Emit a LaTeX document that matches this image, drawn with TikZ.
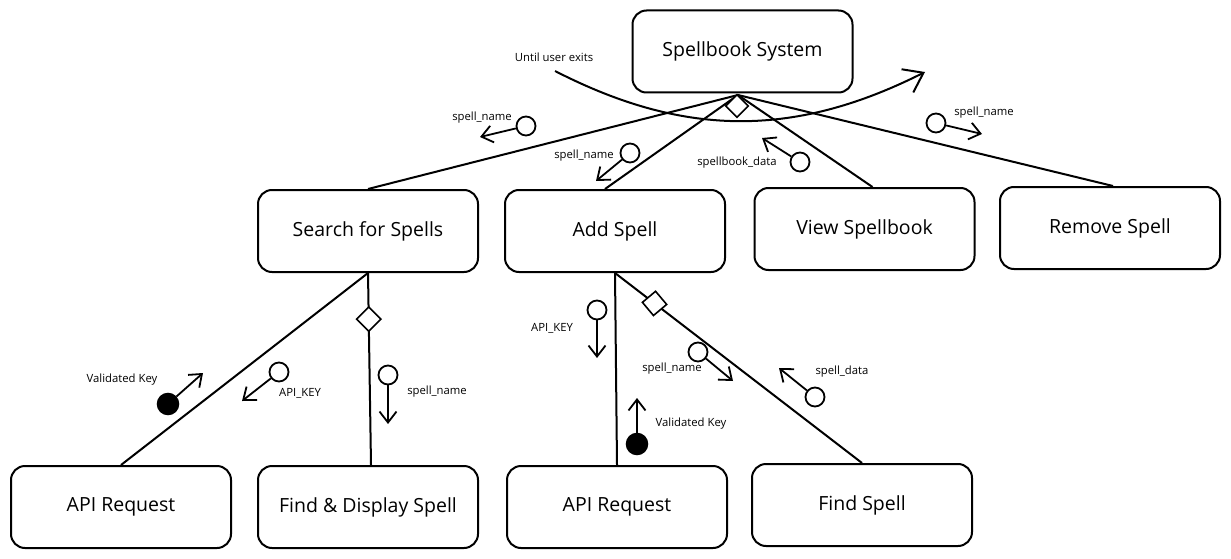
\documentclass[tikz,border=0pt]{standalone}
\usepackage{fontspec}
\setmainfont{Open Sans}
\usetikzlibrary{shapes.geometric,arrows.meta,calc}
\tikzset{
  box/.style={draw, line width=2pt, rounded corners=14pt, minimum width=220pt, minimum height=82pt, font=\fontsize{19.5}{22}\selectfont, fill=white},
  link/.style={line width=2pt},
  dia/.style={draw, diamond, fill=white, line width=1.6pt, minimum size=25pt, inner sep=0pt, aspect=1},
  oc/.style={draw, circle, line width=1.8pt, minimum size=19pt, inner sep=0pt},
  fc/.style={draw, circle, fill=black, line width=1.5pt, minimum size=21pt, inner sep=0pt},
  carr/.style={line width=1.8pt, -{Straight Barb[length=11pt,width=17pt,line width=1.8pt]}},
  lbl/.style={font=\fontsize{11.3}{13}\selectfont, inner sep=1pt}
}
\begin{document}
\begin{tikzpicture}[x=1pt,y=-1pt]
\useasboundingbox (0,0) rectangle (1231,559);
% boxes
\node[box] (sys) at (742.5,51.5) {Spellbook System};
\node[box] (search) at (368,231) {Search for Spells};
\node[box] (add) at (615,231) {Add Spell};
\node[box] (view) at (864.5,229) {View Spellbook};
\node[box] (remove) at (1110,228) {Remove Spell};
\node[box] (api1) at (121,507) {API Request};
\node[box] (fds) at (368,507) {Find \& Display Spell};
\node[box] (api2) at (617,507) {API Request};
\node[box] (find) at (862,505) {Find Spell};
% connectors
\coordinate (top) at (738,95);
\draw[link] (top) -- (search.north);
\draw[link] (top) -- ($(add.north)+(-10,0)$);
\draw[link] (top) -- ($(view.north)+(8,0)$);
\draw[link] (top) -- ($(remove.north)+(3,0)$);
\draw[link] (search.south) -- (api1.north);
\draw[link] (search.south) -- node[dia, pos=0.24] (d2) {} ($(fds.north)+(3,0)$);
\draw[link] (add.south) -- (api2.north);
\draw[link] (add.south) -- node[dia, pos=0.16, rotate=-5] (d3) {} (find.north);
\node[dia, minimum size=23pt] (d1) at (737,106) {};
% loop
\coordinate (ls) at (555,71);
\coordinate (le) at (925,72);
\draw[link, -{Straight Barb[length=18pt,width=26pt,line width=2pt]}] (ls) .. controls (680,135) and (790,140) .. (le);
\node[lbl] (loopl) at (554,57) {Until user exits};
% couples
\node[oc] (c1) at (526,126) {};
\coordinate (e1) at (480,137);
\draw[carr] (c1) -- (e1);
\node[lbl] (l1) at (482,118) {spell\_name};

\node[oc] (c2) at (630,153) {};
\coordinate (e2) at (596,181);
\draw[carr] (c2) -- (e2);
\node[lbl] (l2) at (584,156) {spell\_name};

\node[oc] (c3) at (800,162) {};
\coordinate (e3) at (762,138);
\draw[carr] (c3) -- (e3);
\node[lbl] (l3) at (737,163) {spellbook\_data};

\node[oc] (c4) at (936,123) {};
\coordinate (e4) at (982,134);
\draw[carr] (c4) -- (e4);
\node[lbl] (l4) at (984,113) {spell\_name};

\node[fc] (c5) at (168,404) {};
\coordinate (e5) at (203,373);
\draw[carr] (c5) -- (e5);
\node[lbl] (l5) at (122,380) {Validated Key};

\node[oc] (c6) at (279,372) {};
\coordinate (e6) at (242,401);
\draw[carr] (c6) -- (e6);
\node[lbl] (l6) at (300,393) {API\_KEY};

\node[oc] (c7) at (388,375) {};
\coordinate (e7) at (388,424);
\draw[carr] (c7) -- (e7);
\node[lbl] (l7) at (437,392) {spell\_name};

\node[oc] (c8) at (597,310) {};
\coordinate (e8) at (597,358);
\draw[carr] (c8) -- (e8);
\node[lbl] (l8) at (552,328) {API\_KEY};

\node[fc] (c9) at (637,444) {};
\coordinate (e9) at (637,398);
\draw[carr] (c9) -- (e9);
\node[lbl] (l9) at (691,424) {Validated Key};

\node[oc] (c10) at (698,352) {};
\coordinate (e10) at (733,381);
\draw[carr] (c10) -- (e10);
\node[lbl] (l10) at (672,369) {spell\_name};

\node[oc] (c11) at (815,397) {};
\coordinate (e11) at (779,368);
\draw[carr] (c11) -- (e11);
\node[lbl] (l11) at (842,372) {spell\_data};
\end{tikzpicture}
\end{document}
